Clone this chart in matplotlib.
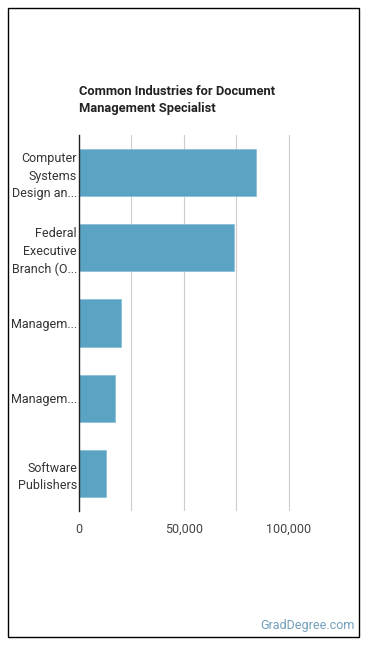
import matplotlib
matplotlib.use("Agg")
import matplotlib.pyplot as plt
from matplotlib.patches import Rectangle

plt.rcParams["font.family"] = ["Roboto", "DejaVu Sans"]

# ---------- data ----------
industries = [
    "Computer\nSystems\nDesign an...",
    "Federal\nExecutive\nBranch (O...",
    "Managem...",
    "Managem...",
    "Software\nPublishers",
]
employment = [84500, 74100, 20200, 17300, 13000]
xticks = [0, 50000, 100000]
xtick_labels = ["0", "50,000", "100,000"]

fig = plt.figure(figsize=(3.70, 6.48), dpi=100)
fig.patch.set_facecolor("white")

# outer frame
fig.patches.append(Rectangle((8 / 370, 1 - 637 / 648), 351 / 370, 629 / 648,
                             transform=fig.transFigure, fill=False,
                             edgecolor="black", linewidth=1.0))

ax = fig.add_axes([79 / 370, 1 - 511 / 648, 262 / 370, 376 / 648])
ypos = list(range(len(industries)))
ax.barh(ypos, employment, height=0.63, color="#5ba3c2", edgecolor="#8cc0d6",
        linewidth=0.6, zorder=3)
ax.set_ylim(len(industries) - 0.5, -0.5)
ax.set_xlim(0, 125000)

ax.set_yticks(ypos)
ax.set_yticklabels(industries, fontsize=9, color="#333333", linespacing=1.45)
ax.set_xticks(xticks)
ax.set_xticklabels(xtick_labels, fontsize=9, color="#444444")
ax.set_xticks([25000, 75000], minor=True)
ax.tick_params(axis="both", which="both", length=0)
ax.tick_params(axis="y", pad=1.5)
ax.tick_params(axis="x", pad=8.5)

ax.grid(axis="x", which="both", color="#cccccc", linewidth=0.8, zorder=0)
for s in ["top", "right", "bottom"]:
    ax.spines[s].set_visible(False)
ax.spines["left"].set_color("#222222")
ax.spines["left"].set_linewidth(1.0)
ax.spines["left"].set_zorder(4)

fig.text(79 / 370, 1 - 100 / 648, "Common Industries for Document\nManagement Specialist",
         fontsize=9.25, fontweight="bold", color="#222222", ha="left", va="center",
         linespacing=1.4)

fig.text(355 / 370, 1 - 626 / 648, "GradDegree.com", fontsize=9, color="#729fbb",
         ha="right", va="center")

fig.savefig("out.png", dpi=100, facecolor="white")
